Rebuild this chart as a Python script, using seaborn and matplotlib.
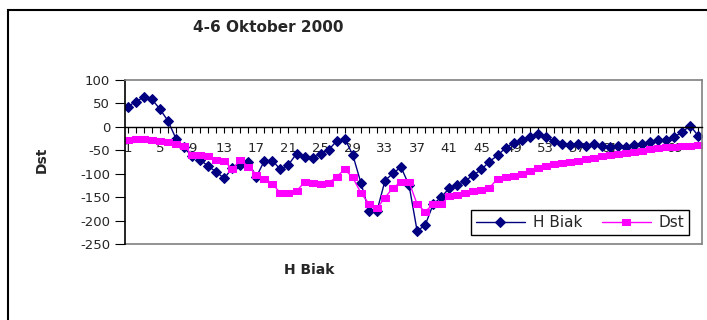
import matplotlib
matplotlib.use("Agg")
import matplotlib.pyplot as plt
from matplotlib.patches import Rectangle
import seaborn as sns
import pandas as pd

# Hourly values, 4-6 October 2000
hours = list(range(1, 73))
h_biak = [43, 54, 63, 59, 38, 13, -25, -44, -63, -70,
          -84, -96, -110, -88, -82, -75, -107, -72, -72, -91,
          -81, -57, -64, -66, -58, -49, -30, -25, -60, -119,
          -179, -180, -115, -99, -86, -125, -222, -210, -165, -150,
          -131, -124, -115, -103, -91, -74, -61, -45, -35, -29,
          -22, -16, -21, -31, -37, -39, -36, -40, -37, -40,
          -44, -41, -44, -39, -36, -32, -28, -28, -22, -10,
          2, -20]
dst = [-29, -25, -26, -28, -31, -33, -36, -40, -60, -61,
       -62, -71, -72, -91, -70, -85, -102, -111, -121, -142,
       -142, -137, -118, -119, -122, -120, -106, -91, -108, -141,
       -164, -174, -151, -130, -118, -118, -165, -181, -165, -165,
       -148, -146, -141, -137, -134, -130, -111, -106, -104, -100,
       -94, -88, -84, -79, -77, -75, -72, -69, -66, -63,
       -60, -57, -55, -53, -51, -48, -46, -44, -43, -41,
       -40, -39]
x_labels = [str(h) if (h - 1) % 4 == 0 else "" for h in hours]
y_ticks = [100, 50, 0, -50, -100, -150, -200, -250]

sns.set_theme(style="white")
plt.rcParams["font.family"] = ["DejaVu Sans"]

W, H = 707, 320
fig = plt.figure(figsize=(W / 100, H / 100), dpi=100)
ax = fig.add_axes([125.3 / W, 76 / H, 576.4 / W, 164 / H])

# flat square marker for Dst
flat_square = [(-1, -0.62), (1, -0.62), (1, 0.62), (-1, 0.62), (-1, -0.62)]

df = pd.DataFrame({"Jam": hours, "H Biak": h_biak, "Dst": dst})
sns.lineplot(data=df, x="Jam", y="H Biak", ax=ax, color="#000080",
             marker="D", markersize=5.2, markeredgecolor="#000080",
             linewidth=1, label="H Biak")
sns.lineplot(data=df, x="Jam", y="Dst", ax=ax, color="#FF00FF",
             marker=flat_square, markersize=6, markeredgecolor="#FF00FF",
             linewidth=1, label="Dst")

ax.set_xlim(0.7, 72.4)
ax.set_ylim(-250, 100)
ax.set_xlabel("")
ax.set_ylabel("")

# category axis crosses at zero
ax.spines["bottom"].set_position(("data", 0))
ax.spines["bottom"].set_color("black")
ax.spines["bottom"].set_linewidth(1.0)
ax.spines["left"].set_color("black")
ax.spines["left"].set_linewidth(1.2)
for side in ("top", "right"):
    ax.spines[side].set_color("#808080")
    ax.spines[side].set_linewidth(1.2)
ax.axhline(-250, color="#808080", linewidth=1.2, clip_on=False, zorder=0)

ax.set_xticks(hours)
ax.set_xticklabels(x_labels)
ax.set_yticks(y_ticks)
ax.set_yticklabels([str(v) for v in y_ticks])
ax.tick_params(axis="x", direction="out", length=4, width=0.8, color="black",
               pad=7, labelsize=9.5, bottom=True)
ax.tick_params(axis="y", direction="out", length=7, width=0.8, color="black",
               pad=4, labelsize=9.5, left=True)

handles, labels = ax.get_legend_handles_labels()
leg = ax.legend(handles, labels, ncol=2, loc="center",
                bbox_to_anchor=(580 / W, 1 - 222.5 / H),
                bbox_transform=fig.transFigure, frameon=True, fancybox=False,
                edgecolor="black", framealpha=1, fontsize=11,
                handlelength=3.2, handletextpad=0.5, columnspacing=1.3,
                borderpad=0.35)
leg.get_frame().set_linewidth(1.0)

fig.text(268.5 / W, 1 - 27.5 / H, "4-6 Oktober 2000", ha="center",
         va="center", fontweight="bold", fontsize=11)
fig.text(309 / W, 1 - 270 / H, "H Biak", ha="center", va="center",
         fontweight="bold", fontsize=10)
fig.text(41.5 / W, 1 - 159.5 / H, "Dst", ha="center", va="center",
         rotation=90, fontweight="bold", fontsize=10)

# chart area frame
fig.add_artist(Rectangle((7.5 / W, -0.05), 1.2, 1 - 10 / H + 0.05,
                         transform=fig.transFigure, fill=False,
                         edgecolor="black", linewidth=1.5))

fig.savefig("out.png", dpi=100)
